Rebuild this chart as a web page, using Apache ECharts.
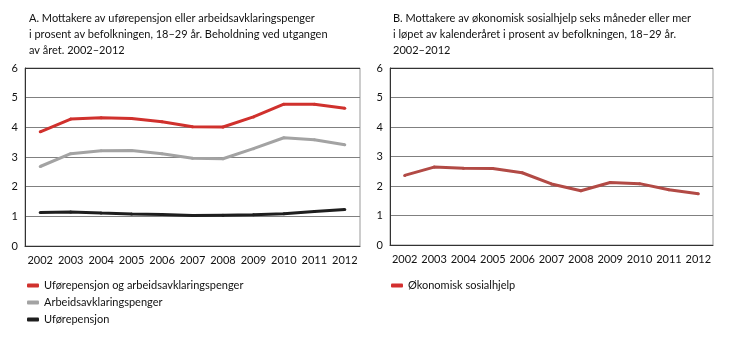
<!DOCTYPE html>
<html><head><meta charset="utf-8">
<script src="https://cdn.jsdelivr.net/npm/echarts@6/dist/echarts.min.js"></script>
<style>html,body{margin:0;padding:0;background:#fff}#c{width:730px;height:344px}</style>
</head><body><div id="c"></div>
<script>
const years = ['2002','2003','2004','2005','2006','2007','2008','2009','2010','2011','2012'];
const uforeOgAap = [3.85,4.28,4.32,4.30,4.19,4.02,4.01,4.35,4.78,4.78,4.64];
const aap = [2.68,3.11,3.21,3.22,3.11,2.96,2.94,3.28,3.65,3.58,3.41];
const ufore = [1.13,1.15,1.11,1.08,1.06,1.03,1.04,1.05,1.09,1.16,1.23];
const sosialhjelp = [2.36,2.64,2.60,2.59,2.45,2.07,1.84,2.12,2.08,1.87,1.74];
const yTicks = [0,1,2,3,4,5,6];

const FONT = 'Lato';
const chart = echarts.init(document.getElementById('c'));
function xAxis(idx){
  return {type:'category', gridIndex:idx, data:years, boundaryGap:true,
    axisLine:{lineStyle:{color:'#333',width:1}}, axisTick:{show:false},
    axisLabel:{color:'#111', fontFamily:FONT, fontSize:11, margin:9, interval:0}};
}
function yAxis(idx){
  return {type:'value', gridIndex:idx, min:yTicks[0], max:yTicks[yTicks.length-1], interval:1,
    axisLine:{show:true, lineStyle:{color:'#333',width:1}}, axisTick:{show:false},
    axisLabel:{color:'#111', fontFamily:FONT, fontSize:11, margin:7},
    splitLine:{show:true, lineStyle:{color:['#808080','#808080','#808080','#808080','#808080','#808080','#333'],width:1}}};
}
function line(name, data, color, xi, lineColor){
  return {name, type:'line', xAxisIndex:xi, yAxisIndex:xi, data,
    symbol:'circle', symbolSize:3, showSymbol:true,
    itemStyle:{color:color}, lineStyle:{color:lineColor||color, width:3},
    emphasis:{disabled:true}};
}
chart.setOption({
  animation:false,
  textStyle:{fontFamily:FONT},
  title:[
    {text:'A. Mottakere av uførepensjon eller arbeidsavklaringspenger\ni prosent av befolkningen, 18–29 år. Beholdning ved utgangen\nav året. 2002–2012',
     left:24, top:5, textStyle:{fontFamily:FONT, fontSize:11, fontWeight:'normal', color:'#111', lineHeight:16}},
    {text:'B. Mottakere av økonomisk sosialhjelp seks måneder eller mer\ni løpet av kalenderåret i prosent av befolkningen, 18–29 år.\n2002–2012',
     left:388, top:5, textStyle:{fontFamily:FONT, fontSize:11, fontWeight:'normal', color:'#111', lineHeight:16}}
  ],
  grid:[
    {left:25, top:68, width:335, height:178, show:true, borderColor:'#999', borderWidth:1},
    {left:390, top:68, width:323, height:177, show:true, borderColor:'#999', borderWidth:1}
  ],
  xAxis:[xAxis(0), xAxis(1)],
  yAxis:[yAxis(0), yAxis(1)],
  legend:[
    {left:22, top:275, orient:'vertical', itemGap:6, itemWidth:12, itemHeight:4, icon:'roundRect',
     textStyle:{fontFamily:FONT, fontSize:11, color:'#111'},
     data:['Uførepensjon og arbeidsavklaringspenger','Arbeidsavklaringspenger','Uførepensjon']},
    {left:386, top:275, orient:'vertical', itemWidth:12, itemHeight:4, icon:'roundRect',
     textStyle:{fontFamily:FONT, fontSize:11, color:'#111'},
     data:[{name:'Økonomisk sosialhjelp', itemStyle:{color:'#d32f2f'}}]}
  ],
  series:[
    line('Uførepensjon og arbeidsavklaringspenger', uforeOgAap, '#d0312d', 0),
    line('Arbeidsavklaringspenger', aap, '#a3a3a3', 0),
    line('Uførepensjon', ufore, '#1e1e1e', 0),
    line('Økonomisk sosialhjelp', sosialhjelp, '#b24a45', 1)
  ]
});
</script></body></html>
